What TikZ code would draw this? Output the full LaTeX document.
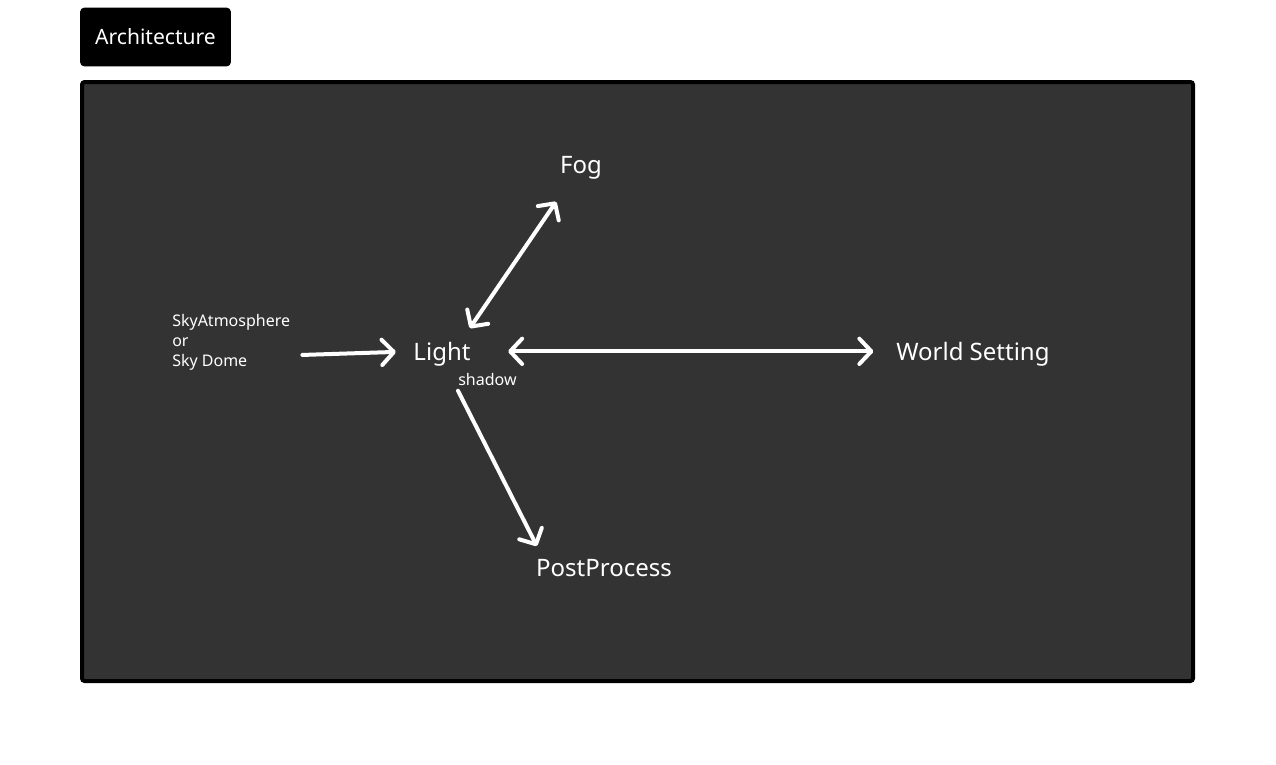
\documentclass[tikz,border=0pt]{standalone}
\usepackage{fontspec}
\setmainfont{Noto Sans}
\usetikzlibrary{arrows.meta, positioning}
\definecolor{boardgray}{RGB}{51,51,51}
\tikzset{
    title/.style={
        rectangle, rounded corners=3pt,
        fill=black, text=white,
        minimum width=113pt, minimum height=44pt,
        font=\fontsize{15.8}{18}\selectfont
    },
    board/.style={
        draw=black, fill=boardgray, line width=3pt, rounded corners=2pt
    },
    label/.style={
        text=white, inner sep=0pt,
        font=\fontsize{18}{21}\selectfont
    },
    note/.style={
        text=white, inner sep=0pt, align=left,
        font=\fontsize{12}{15}\selectfont
    },
    arrow/.style={
        -{Straight Barb[length=9pt, width=19pt, round]},
        white, line width=3pt, line cap=round
    },
    both/.style={
        {Straight Barb[length=9pt, width=19pt, round]}-{Straight Barb[length=9pt, width=19pt, round]},
        white, line width=3pt, line cap=round
    }
}
\begin{document}
\begin{tikzpicture}[x=0.75pt, y=-0.75pt]
    \useasboundingbox (0,0) rectangle (1276,764);

    \node[title] (head) at (155.5,37) {Architecture};
    \draw[board] (82,82) rectangle (1193,681);

    \node[label] (light) at (442,354) {Light};
    \node[note, anchor=west] (shadow) at (458,379) {shadow};
    \node[label] (fog) at (581,168) {Fog};
    \node[label, anchor=west] (world) at (896,354) {World Setting};
    \node[label] (post) at (604,568) {PostProcess};
    \node[note, anchor=west] (sky) at (172,342) {SkyAtmosphere\\or\\Sky Dome};

    \draw[arrow, shorten <=9pt, shorten >=13pt] ([yshift=-10pt]sky.east) -- ([yshift=2pt]light.west);
    \draw[both, shorten <=21pt, shorten >=33pt] ([xshift=9pt, yshift=2pt]light.center) -- ([yshift=2pt]fog.center);
    \draw[both, shorten <=28pt, shorten >=17pt] ([yshift=2pt]light.east) -- ([yshift=2pt]world.west);
    \draw[arrow] ([yshift=-4pt]shadow.south west) -- ([shift={(1,-13)}]post.north west);
\end{tikzpicture}
\end{document}
